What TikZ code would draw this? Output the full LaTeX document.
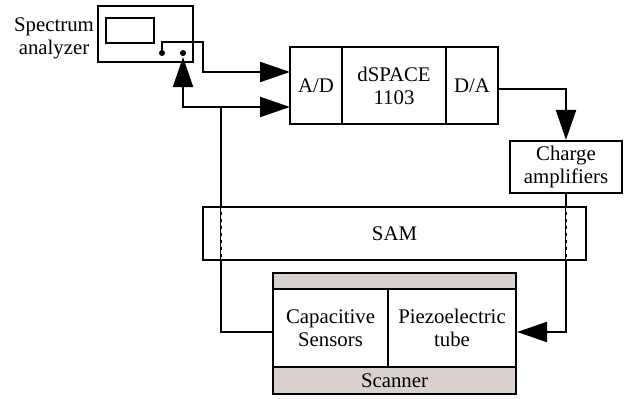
\documentclass[tikz,border=0pt]{standalone}
\usepackage{fontspec}
\setmainfont{Liberation Serif}
\usepackage{xcolor}
\usetikzlibrary{arrows.meta}
\definecolor{scangray}{RGB}{216,209,206}

\begin{document}
\begin{tikzpicture}[x=0.5pt,y=-0.5pt,
	font=\fontsize{10.4pt}{11.5pt}\selectfont,
	line width=1.1pt,
	block/.style={draw, inner sep=0pt, align=center},
	sig/.style={-{Triangle[length=15pt,width=10pt]}},
	pin/.style={circle, fill, inner sep=0pt, minimum size=3pt},
	hidden/.style={white, line width=0.5pt, dash pattern=on 2pt off 1.5pt,
		shorten <=1pt, shorten >=1pt}]
	
	\useasboundingbox (0,0) rectangle (626,399);
	
	% spectrum analyzer
	\node[block, minimum width=47.5pt, minimum height=28pt] (sa) at (145.5,34) {};
	\node[block, minimum width=24pt, minimum height=12.5pt] (screen) at (130,30.5) {};
	\node[align=center] (salabel) at (54,38) {Spectrum\\analyzer};
	\node[pin] (d1) at (162,53) {};
	\node[pin] (d2) at (183,53) {};
	
	% dSPACE board
	\node[block, minimum width=26pt, minimum height=38.5pt] (ad) at (316,85.5) {A/D};
	\node[block, minimum width=52pt, minimum height=38.5pt] (ds) at (394,85.5) {dSPACE\\1103};
	\node[block, minimum width=26pt, minimum height=38.5pt] (da) at (472,85.5) {D/A};
	
	\node[block, minimum width=56pt, minimum height=26pt] (ca) at (566,167) {Charge\\amplifiers};
	
	\node[block, minimum width=191.5pt, minimum height=26.5pt] (sam) at (394.5,233.5) {SAM};
	
	% scanner
	\node[block, fill=scangray, minimum width=121.5pt, minimum height=8pt] (top) at (394.5,281) {};
	\node[block, minimum width=57.5pt, minimum height=39pt] (cs) at (330.5,328) {Capacitive\\Sensors};
	\node[block, minimum width=64pt, minimum height=39pt] (pt) at (452,328) {Piezoelectric\\tube};
	\node[block, fill=scangray, minimum width=121.5pt, minimum height=13.5pt] (sc) at (394.5,380.5) {Scanner};
	
	\coordinate (t1) at (203,42);
	\coordinate (in1) at (290,72);
	\coordinate (in2) at (290,107);
	\coordinate (j) at (221,107);
	
	\draw[sig] (d1.center) |- (t1) |- (in1);
	\draw ([yshift=-2pt]cs.west) -| (j);
	\draw[sig] (j) -- (in2);
	\draw[sig] (j) -| (d2);
	
	\draw[sig] ([yshift=-1.75pt]da.east) -| (ca.north);
	\draw[sig] (ca.south) |- ([yshift=-2pt]pt.east);
	
	% wires running behind the SAM
	\draw[hidden] (j |- sam.north) -- (j |- sam.south);
	\draw[hidden] (ca.south |- sam.north) -- (ca.south |- sam.south);
	
\end{tikzpicture}
\end{document}
